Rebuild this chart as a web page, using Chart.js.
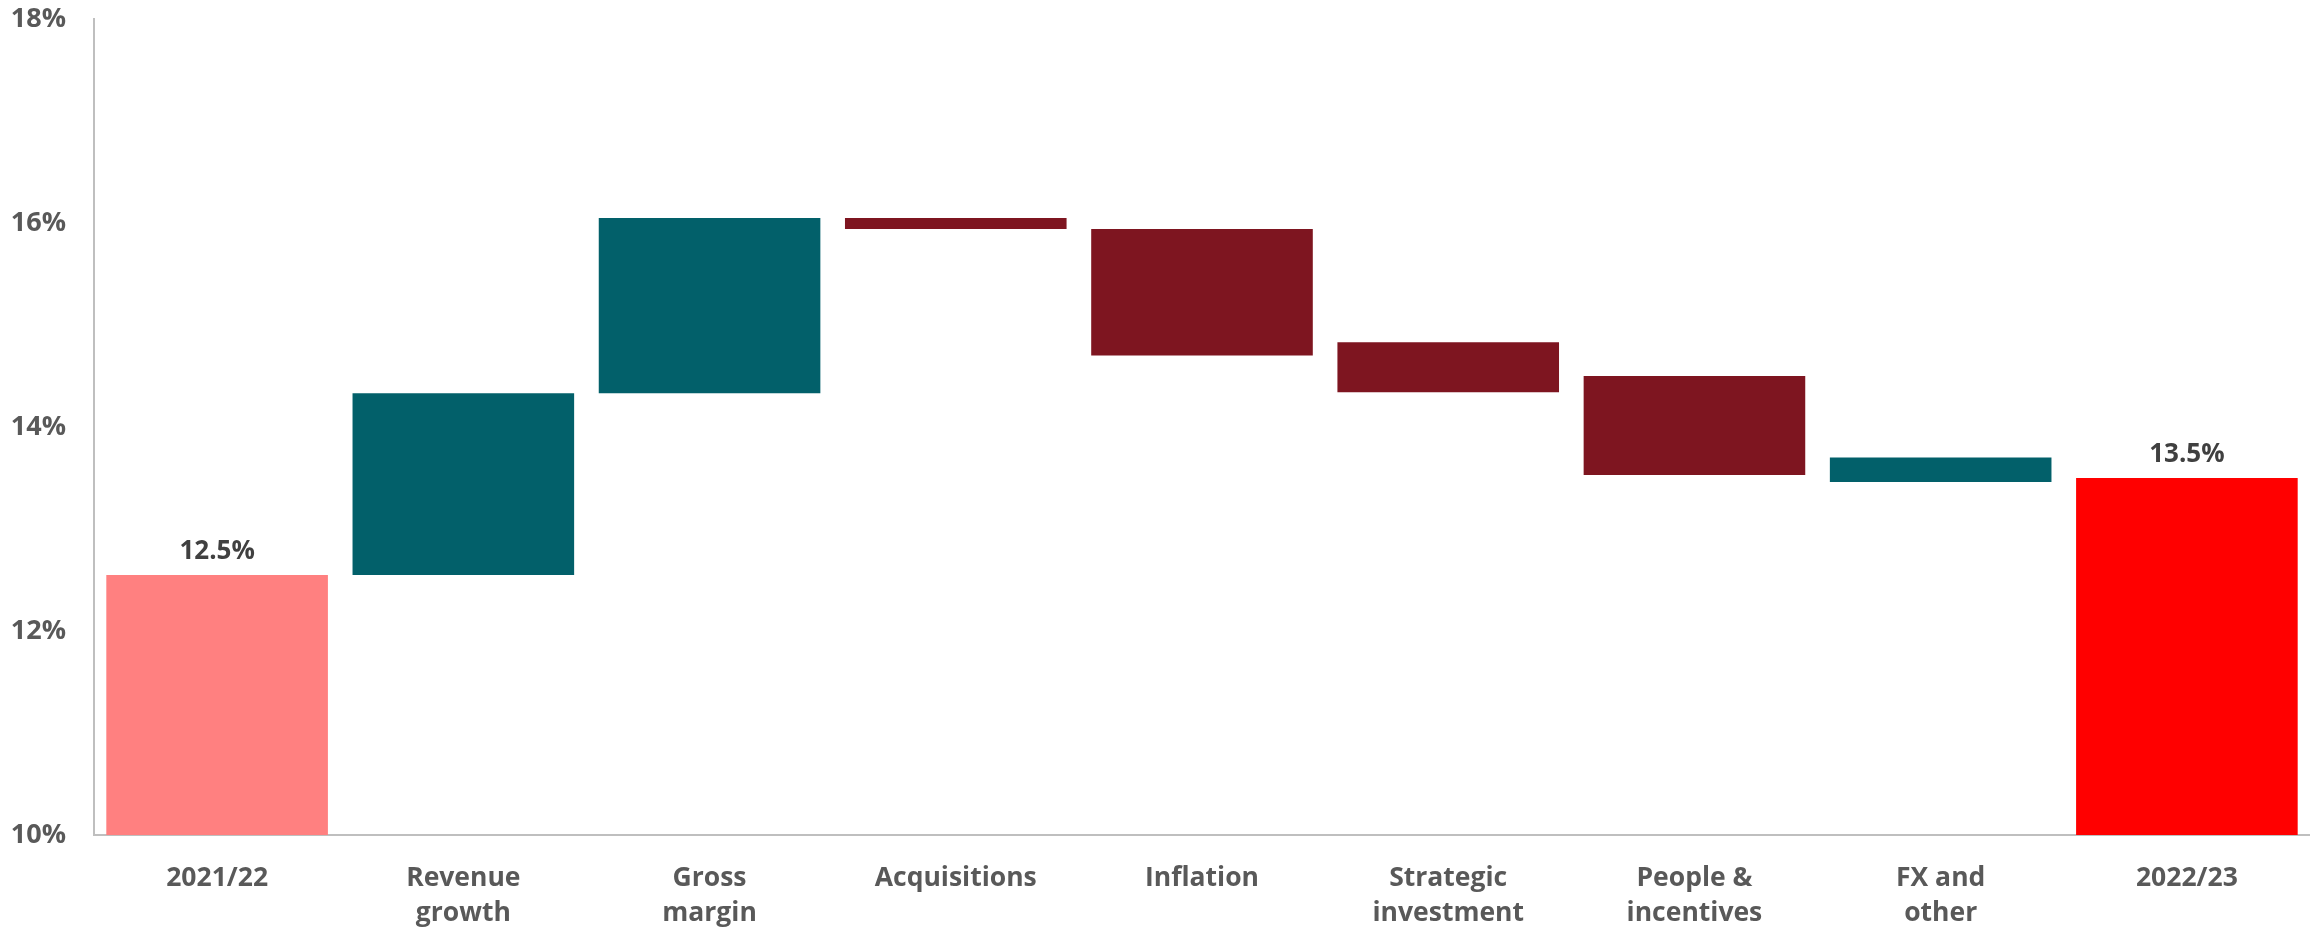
<!DOCTYPE html>
<html>
<head>
<meta charset="utf-8">
<script src="https://cdn.jsdelivr.net/npm/chart.js@4"></script>
<style>
  html, body { margin: 0; padding: 0; background: #fff; }
  #wrap { width: 2310px; height: 930px; }
</style>
</head>
<body>
<div id="wrap"><canvas id="myChart"></canvas></div>
<script>
// categories and bar ranges (margin %)
var categories = [["2021/22"], ["Revenue", "growth"], ["Gross", "margin"], ["Acquisitions"], ["Inflation"],
    ["Strategic", "investment"], ["People &", "incentives"], ["FX and", "other"], ["2022/23"]];
var barStart = [10, 12.55, 14.33, 16.05, 15.94, 14.83, 14.50, 13.70, 10];
var barEnd = [12.55, 14.33, 16.05, 15.94, 14.70, 14.34, 13.53, 13.46, 13.50];
var barLabels = ["12.5%", "", "", "", "", "", "", "", "13.5%"];
var yTicks = [10, 12, 14, 16, 18];

var barColors = [
    "#FF8080",
    "#02606A",
    "#02606A",
    "#7E1520",
    "#7E1520",
    "#7E1520",
    "#7E1520",
    "#02606A",
    "#FF0000"
];

var ranges = [];
for (let i = 0; i < barStart.length; i++) {
    ranges.push([barStart[i], barEnd[i]]);
}

// small plugin: write the totals above their bars
const topLabels = {
    id: "topLabels",
    afterDatasetsDraw(chart) {
        const ctx = chart.ctx;
        const meta = chart.getDatasetMeta(0);
        ctx.save();
        ctx.font = "bold 26px 'Open Sans'";
        ctx.fillStyle = "#404040";
        ctx.textAlign = "center";
        ctx.textBaseline = "bottom";
        meta.data.forEach((bar, i) => {
            if (barLabels[i] != "") {
                ctx.fillText(barLabels[i], bar.x, bar.y - 10);
            }
        });
        ctx.restore();
    }
};

new Chart("myChart", {
    type: "bar",
    data: {
        labels: categories,
        datasets: [{
            data: ranges,
            backgroundColor: barColors,
            borderWidth: 0,
            barPercentage: 0.9,
            categoryPercentage: 1.0
        }]
    },
    plugins: [topLabels],
    options: {
        responsive: true,
        maintainAspectRatio: false,
        animation: false,
        layout: {
            padding: { top: 5, left: 10, right: 0, bottom: 0 }
        },
        plugins: {
            legend: { display: false },
            tooltip: { enabled: false }
        },
        scales: {
            x: {
                grid: { display: false, drawTicks: false },
                border: { display: true, color: "#BFBFBF", width: 2 },
                afterFit: (axis) => {
                    axis.height = 95;
                    axis.paddingLeft = 0;
                    axis.paddingRight = 0;
                },
                ticks: {
                    color: "#595959",
                    font: { family: "'Open Sans'", size: 26.5, weight: "bold", lineHeight: 1.32 },
                    padding: 26,
                    maxRotation: 0,
                    autoSkip: false
                }
            },
            y: {
                min: 10,
                max: 18,
                afterBuildTicks: (axis) => {
                    axis.ticks = yTicks.map(v => ({ value: v }));
                },
                afterFit: (axis) => {
                    axis.width = 84;
                    axis.paddingTop = 19;
                    axis.paddingBottom = 0;
                },
                grid: { display: false, drawTicks: false },
                border: { display: true, color: "#BFBFBF", width: 2 },
                ticks: {
                    color: "#595959",
                    font: { family: "'Open Sans'", size: 27, weight: "bold" },
                    padding: 28,
                    callback: (v) => v + "%"
                }
            }
        }
    }
});
</script>
</body>
</html>
